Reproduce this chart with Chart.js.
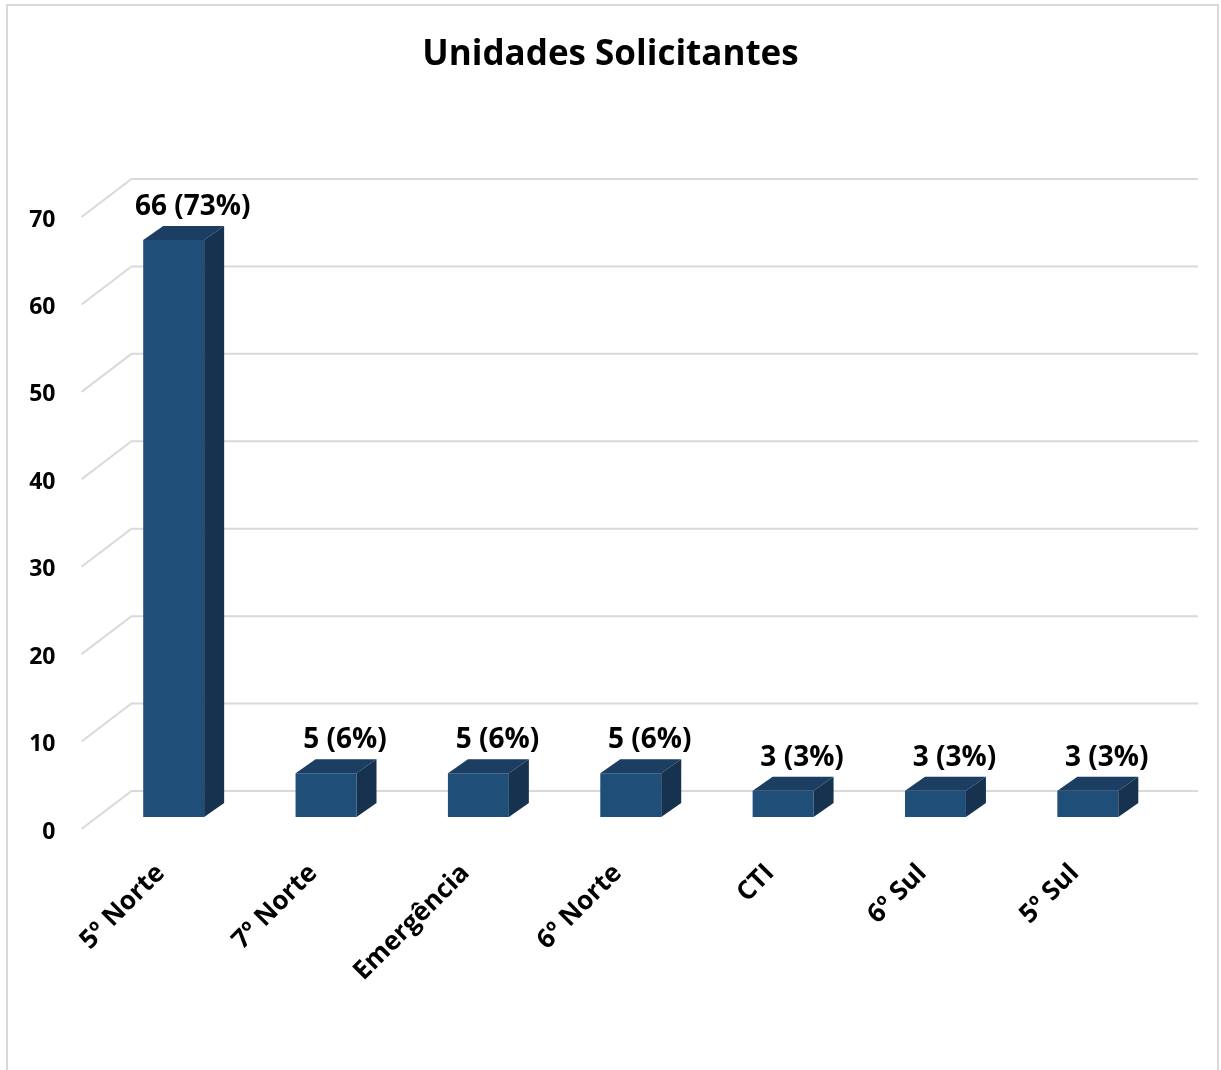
<!DOCTYPE html>
<html>
<head>
<meta charset="utf-8">
<script src="https://cdn.jsdelivr.net/npm/chart.js@4"></script>
<style>
  body { margin: 0; background: #fff; }
  #wrap { position: relative; width: 1221px; height: 1070px; }
</style>
</head>
<body>
<div id="wrap"><canvas id="chart"></canvas></div>
<script>
// dados do gráfico
const categorias = ['5º Norte', '7º Norte', 'Emergência', '6º Norte', 'CTI', '6º Sul', '5º Sul'];
const valores = [66, 5, 5, 5, 3, 3, 3];
const yTicks = [0, 10, 20, 30, 40, 50, 60, 70];

const total = valores.reduce((a, b) => a + b, 0);

// cores das faces da barra 3D
const corFrente = '#1f4e79';
const corTopo = '#1b3e62';
const corLado = '#16324e';
const corGrade = '#d9d9d9';

// deslocamentos da perspectiva
const PROF = { dx: 20, dy: 14 };       // profundidade da barra
const FUNDO = { dx: 34, dy: 26 };      // parede de fundo
const FRENTE = { dx: -16, dy: 12 };    // plano frontal

const FONTE = "'Open Sans', sans-serif";

// moldura e fundo
const molduraPlugin = {
    id: 'moldura',
    beforeDraw(chart) {
        const ctx = chart.ctx;
        ctx.save();
        ctx.fillStyle = '#fff';
        ctx.fillRect(0, 0, chart.width, chart.height);
        ctx.strokeStyle = corGrade;
        ctx.lineWidth = 2;
        ctx.strokeRect(7, 5, 1211, 1100);
        ctx.restore();
    }
};

// grade em perspectiva (parede de fundo + diagonais)
const gradePlugin = {
    id: 'grade3d',
    beforeDatasetsDraw(chart) {
        const { ctx, chartArea, scales } = chart;
        const y = scales.y;
        ctx.save();
        ctx.strokeStyle = corGrade;
        ctx.lineWidth = 2;
        yTicks.forEach(v => {
            const py = y.getPixelForValue(v);
            ctx.beginPath();
            ctx.moveTo(chartArea.left + FRENTE.dx, py + FRENTE.dy);
            ctx.lineTo(chartArea.left + FUNDO.dx, py - FUNDO.dy);
            ctx.lineTo(chartArea.right + FUNDO.dx, py - FUNDO.dy);
            ctx.stroke();
        });
        ctx.restore();
    }
};

// topo e lateral das barras + rótulos
const barras3dPlugin = {
    id: 'barras3d',
    afterDatasetsDraw(chart) {
        const ctx = chart.ctx;
        const meta = chart.getDatasetMeta(0);
        ctx.save();
        meta.data.forEach((bar, i) => {
            const { x, y, base, width } = bar.getProps(['x', 'y', 'base', 'width'], true);
            const l = x - width / 2, r = x + width / 2;
            // topo
            ctx.fillStyle = corTopo;
            ctx.beginPath();
            ctx.moveTo(l, y);
            ctx.lineTo(r, y);
            ctx.lineTo(r + PROF.dx, y - PROF.dy);
            ctx.lineTo(l + PROF.dx, y - PROF.dy);
            ctx.closePath();
            ctx.fill();
            // lateral
            ctx.fillStyle = corLado;
            ctx.beginPath();
            ctx.moveTo(r, y);
            ctx.lineTo(r + PROF.dx, y - PROF.dy);
            ctx.lineTo(r + PROF.dx, base - PROF.dy);
            ctx.lineTo(r, base);
            ctx.closePath();
            ctx.fill();

            // rótulo de dados
            const v = valores[i];
            const pct = Math.round(v / total * 100);
            ctx.fillStyle = '#000';
            ctx.font = "bold 28px " + FONTE;
            ctx.textAlign = 'center';
            ctx.textBaseline = 'middle';
            ctx.fillText(`${v} (${pct}%)`, x + 19, y - 33);
        });
        ctx.restore();
    }
};

new Chart(document.getElementById('chart'), {
    type: 'bar',
    data: {
        labels: categorias,
        datasets: [{
            data: valores,
            backgroundColor: corFrente,
            borderWidth: 0,
            barPercentage: 0.4,
            categoryPercentage: 1.0
        }]
    },
    options: {
        responsive: true,
        maintainAspectRatio: false,
        animation: false,
        layout: { padding: 0 },
        plugins: {
            legend: { display: false },
            tooltip: { enabled: false },
            title: {
                display: true,
                text: 'Unidades Solicitantes',
                color: '#000',
                font: { family: FONTE, size: 35, weight: 'bold' },
                padding: { top: 34, bottom: 129 }
            }
        },
        scales: {
            x: {
                grid: { display: false, drawTicks: false },
                border: { display: false },
                ticks: {
                    color: '#000',
                    font: { family: FONTE, size: 26, weight: 'bold' },
                    minRotation: 45,
                    maxRotation: 45,
                    labelOffset: -13,
                    padding: 41
                },
                afterFit(scale) { scale.height = 253; }
            },
            y: {
                min: 0,
                max: 70,
                grid: { display: false, drawTicks: false },
                border: { display: false },
                ticks: {
                    stepSize: 10,
                    color: '#000',
                    font: { family: FONTE, size: 23, weight: 'bold' },
                    labelOffset: 15,
                    padding: 42
                },
                afterFit(scale) { scale.width = 97.5; }
            },
            // eixo vazio à direita só para reservar a margem
            y2: {
                position: 'right',
                min: 0,
                max: 70,
                grid: { display: false, drawTicks: false },
                border: { display: false },
                ticks: { display: false },
                afterFit(scale) { scale.width = 57; }
            }
        }
    },
    plugins: [molduraPlugin, gradePlugin, barras3dPlugin]
});
</script>
</body>
</html>
